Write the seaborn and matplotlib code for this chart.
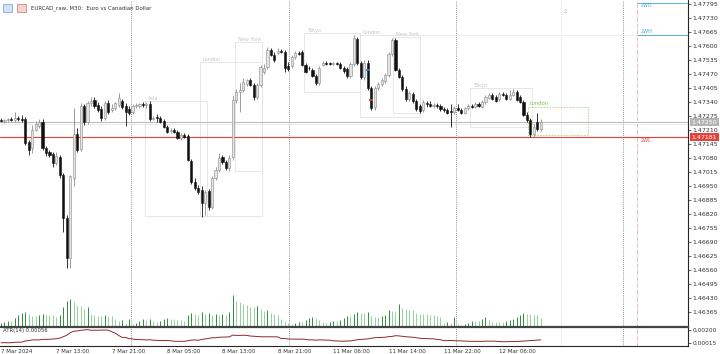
import numpy as np
import pandas as pd
import matplotlib
matplotlib.use("Agg")
import matplotlib.pyplot as plt
import seaborn as sns
from matplotlib.patches import Rectangle

# EURCAD M30 candles (bar index = position)
opens = [1.47256, 1.47252, 1.47256, 1.47261, 1.47256, 1.47266, 1.47261, 1.47261, 1.47154, 1.47126,
         1.47210, 1.47229, 1.47247, 1.47126, 1.47108, 1.47099, 1.47057, 1.47085, 1.47001, 1.46801,
         1.46616, 1.46987, 1.47191, 1.47122, 1.47321, 1.47247, 1.47335, 1.47349, 1.47326, 1.47307,
         1.47266, 1.47335, 1.47303, 1.47312, 1.47326, 1.47345, 1.47321, 1.47307, 1.47294, 1.47321,
         1.47321, 1.47331, 1.47326, 1.47331, 1.47261, 1.47270, 1.47266, 1.47252, 1.47224, 1.47205,
         1.47210, 1.47201, 1.47173, 1.47187, 1.47182, 1.47066, 1.46969, 1.46941, 1.46931, 1.46871,
         1.46927, 1.46852, 1.46987, 1.47024, 1.47085, 1.47061, 1.47034, 1.47085, 1.47349, 1.47386,
         1.47396, 1.47424, 1.47442, 1.47419, 1.47363, 1.47419, 1.47479, 1.47502, 1.47581, 1.47558,
         1.47567, 1.47577, 1.47572, 1.47507, 1.47507, 1.47549, 1.47567, 1.47572, 1.47512, 1.47498,
         1.47489, 1.47461, 1.47428, 1.47512, 1.47521, 1.47521, 1.47516, 1.47521, 1.47516, 1.47498,
         1.47493, 1.47461, 1.47516, 1.47633, 1.47521, 1.47456, 1.47521, 1.47405, 1.47317, 1.47405,
         1.47424, 1.47437, 1.47465, 1.47563, 1.47628, 1.47489, 1.47456, 1.47400, 1.47354, 1.47377,
         1.47345, 1.47321, 1.47303, 1.47335, 1.47331, 1.47321, 1.47326, 1.47321, 1.47307, 1.47303,
         1.47298, 1.47294, 1.47312, 1.47303, 1.47289, 1.47312, 1.47321, 1.47317, 1.47331, 1.47317,
         1.47340, 1.47359, 1.47372, 1.47363, 1.47354, 1.47377, 1.47372, 1.47354, 1.47372, 1.47386,
         1.47363, 1.47340, 1.47280, 1.47256, 1.47191, 1.47247, 1.47215]
highs = [1.47266, 1.47261, 1.47266, 1.47270, 1.47294, 1.47275, 1.47280, 1.47270, 1.47164, 1.47233,
         1.47252, 1.47261, 1.47261, 1.47136, 1.47117, 1.47108, 1.47108, 1.47094, 1.47010, 1.46815,
         1.47001, 1.47312, 1.47219, 1.47335, 1.47331, 1.47345, 1.47363, 1.47363, 1.47340, 1.47321,
         1.47345, 1.47349, 1.47331, 1.47340, 1.47382, 1.47354, 1.47335, 1.47321, 1.47331, 1.47335,
         1.47335, 1.47340, 1.47340, 1.47345, 1.47275, 1.47284, 1.47275, 1.47261, 1.47233, 1.47219,
         1.47219, 1.47210, 1.47196, 1.47196, 1.47191, 1.47075, 1.46987, 1.46955, 1.46950, 1.46931,
         1.46936, 1.46996, 1.47038, 1.47103, 1.47094, 1.47071, 1.47094, 1.47372, 1.47400, 1.47428,
         1.47451, 1.47447, 1.47451, 1.47428, 1.47428, 1.47512, 1.47516, 1.47595, 1.47591, 1.47572,
         1.47591, 1.47586, 1.47581, 1.47526, 1.47558, 1.47577, 1.47577, 1.47581, 1.47521, 1.47507,
         1.47498, 1.47470, 1.47507, 1.47530, 1.47530, 1.47526, 1.47526, 1.47526, 1.47526, 1.47507,
         1.47502, 1.47526, 1.47651, 1.47642, 1.47530, 1.47535, 1.47535, 1.47414, 1.47414, 1.47433,
         1.47451, 1.47475, 1.47572, 1.47637, 1.47637, 1.47498, 1.47465, 1.47414, 1.47391, 1.47386,
         1.47354, 1.47331, 1.47349, 1.47345, 1.47345, 1.47335, 1.47335, 1.47331, 1.47317, 1.47312,
         1.47331, 1.47321, 1.47331, 1.47312, 1.47317, 1.47331, 1.47331, 1.47340, 1.47340, 1.47349,
         1.47372, 1.47382, 1.47382, 1.47372, 1.47386, 1.47386, 1.47382, 1.47396, 1.47400, 1.47396,
         1.47372, 1.47349, 1.47294, 1.47266, 1.47238, 1.47289, 1.47261]
lows = [1.47247, 1.47242, 1.47247, 1.47252, 1.47247, 1.47252, 1.47247, 1.47140, 1.47094, 1.47103,
        1.47205, 1.47219, 1.47117, 1.47089, 1.47085, 1.47038, 1.47047, 1.46987, 1.46736, 1.46569,
        1.46569, 1.46950, 1.47108, 1.47112, 1.47233, 1.47238, 1.47321, 1.47312, 1.47294, 1.47252,
        1.47256, 1.47284, 1.47294, 1.47303, 1.47317, 1.47307, 1.47229, 1.47280, 1.47284, 1.47312,
        1.47312, 1.47317, 1.47312, 1.47252, 1.47256, 1.47247, 1.47242, 1.47219, 1.47196, 1.47196,
        1.47196, 1.47168, 1.47164, 1.47173, 1.47066, 1.46959, 1.46931, 1.46913, 1.46806, 1.46815,
        1.46839, 1.46843, 1.46978, 1.47015, 1.47052, 1.47024, 1.47020, 1.47071, 1.47335, 1.47294,
        1.47386, 1.47414, 1.47414, 1.47349, 1.47354, 1.47410, 1.47470, 1.47493, 1.47554, 1.47526,
        1.47563, 1.47567, 1.47479, 1.47484, 1.47498, 1.47540, 1.47558, 1.47507, 1.47475, 1.47489,
        1.47456, 1.47419, 1.47419, 1.47507, 1.47512, 1.47512, 1.47512, 1.47512, 1.47493, 1.47475,
        1.47451, 1.47451, 1.47507, 1.47512, 1.47447, 1.47442, 1.47396, 1.47303, 1.47303, 1.47396,
        1.47414, 1.47428, 1.47456, 1.47554, 1.47484, 1.47451, 1.47391, 1.47345, 1.47345, 1.47335,
        1.47298, 1.47289, 1.47294, 1.47317, 1.47317, 1.47312, 1.47312, 1.47298, 1.47294, 1.47284,
        1.47224, 1.47284, 1.47298, 1.47284, 1.47284, 1.47303, 1.47312, 1.47312, 1.47317, 1.47312,
        1.47331, 1.47354, 1.47349, 1.47340, 1.47345, 1.47368, 1.47349, 1.47349, 1.47368, 1.47345,
        1.47335, 1.47275, 1.47247, 1.47177, 1.47177, 1.47205, 1.47205]
closes = [1.47252, 1.47256, 1.47261, 1.47256, 1.47266, 1.47261, 1.47256, 1.47150, 1.47117, 1.47210,
          1.47238, 1.47247, 1.47126, 1.47103, 1.47094, 1.47057, 1.47089, 1.47001, 1.46801, 1.46616,
          1.46996, 1.47191, 1.47117, 1.47321, 1.47247, 1.47335, 1.47345, 1.47321, 1.47303, 1.47266,
          1.47335, 1.47294, 1.47312, 1.47335, 1.47359, 1.47317, 1.47294, 1.47289, 1.47321, 1.47326,
          1.47331, 1.47326, 1.47331, 1.47261, 1.47266, 1.47268, 1.47247, 1.47224, 1.47201, 1.47210,
          1.47201, 1.47173, 1.47187, 1.47177, 1.47071, 1.46969, 1.46941, 1.46922, 1.46871, 1.46922,
          1.46852, 1.46987, 1.47024, 1.47080, 1.47061, 1.47034, 1.47080, 1.47349, 1.47386, 1.47396,
          1.47433, 1.47442, 1.47419, 1.47363, 1.47419, 1.47502, 1.47498, 1.47581, 1.47558, 1.47535,
          1.47577, 1.47572, 1.47498, 1.47493, 1.47549, 1.47567, 1.47565, 1.47512, 1.47479, 1.47496,
          1.47461, 1.47428, 1.47498, 1.47521, 1.47519, 1.47516, 1.47521, 1.47516, 1.47498, 1.47484,
          1.47461, 1.47516, 1.47637, 1.47521, 1.47456, 1.47521, 1.47405, 1.47312, 1.47405, 1.47424,
          1.47442, 1.47465, 1.47563, 1.47628, 1.47489, 1.47456, 1.47400, 1.47354, 1.47382, 1.47345,
          1.47307, 1.47298, 1.47340, 1.47331, 1.47321, 1.47326, 1.47321, 1.47307, 1.47303, 1.47289,
          1.47294, 1.47312, 1.47303, 1.47289, 1.47312, 1.47321, 1.47317, 1.47331, 1.47321, 1.47340,
          1.47363, 1.47372, 1.47354, 1.47345, 1.47377, 1.47372, 1.47354, 1.47372, 1.47386, 1.47349,
          1.47340, 1.47280, 1.47256, 1.47191, 1.47224, 1.47215, 1.47247]
volumes = [400, 500, 600, 600, 900, 1200, 1400, 1500, 1300, 1100,
           1100, 1200, 1300, 1200, 1200, 1200, 1000, 1200, 2000, 2600,
           2800, 2500, 2100, 2100, 1800, 2000, 1300, 1200, 1100, 1100,
           1200, 1100, 1100, 800, 600, 700, 400, 800, 300, 400,
           600, 800, 700, 800, 600, 500, 600, 800, 900, 800,
           800, 700, 700, 600, 1200, 1400, 1300, 1200, 1500, 1300,
           1400, 1200, 1300, 1200, 1300, 1200, 1500, 3200, 2600, 2500,
           2300, 2200, 2000, 2000, 2100, 1800, 1600, 1700, 1400, 1300,
           1200, 800, 600, 400, 300, 400, 500, 500, 700, 900,
           1000, 900, 700, 500, 400, 500, 600, 600, 700, 900,
           1100, 1100, 1300, 1500, 1400, 1400, 1500, 1100, 1000, 1000,
           1100, 1200, 1700, 1600, 1500, 2300, 1900, 1800, 1700, 1700,
           1400, 1300, 1300, 1300, 1200, 1200, 1100, 1000, 400, 500,
           400, 1000, 300, 200, 300, 400, 600, 600, 600, 800,
           1000, 700, 500, 500, 500, 500, 600, 700, 800, 1000,
           1200, 1400, 1300, 1300, 1200, 1200, 900]

time_labels = ["7 Mar 2024", "7 Mar 13:00", "7 Mar 21:00", "8 Mar 05:00", "8 Mar 13:00",
               "8 Mar 21:00", "11 Mar 06:00", "11 Mar 14:00", "11 Mar 22:00", "12 Mar 06:00"]
time_label_bars = [0, 16, 32, 48, 64, 80, 96, 112, 128, 144]

price_ticks = [1.47795, 1.47730, 1.47665, 1.47600, 1.47535, 1.47470, 1.47405, 1.47340,
               1.47275, 1.47210, 1.47145, 1.47080, 1.47015, 1.46950, 1.46885, 1.46820,
               1.46755, 1.46690, 1.46625, 1.46560, 1.46495, 1.46430, 1.46365]

day_separators = [37.6, 83.2, 131.5, 179.8]
bid_price, ask_price = 1.47247, 1.47238
level_2wl = 1.47177
level_2wh = 1.47651
level_2wo = 1.47800

# session boxes: name, first bar, last bar, low, high
sessions = [
    ("Asia", 41.6, 59.5, 1.46811, 1.47345),
    ("London", 57.5, 75.4, 1.46811, 1.47526),
    ("New York", 67.6, 75.4, 1.47020, 1.47619),
    ("Tokyo", 87.6, 103.8, 1.47386, 1.47661),
    ("London", 103.8, 121.1, 1.47270, 1.47651),
    ("New York", 113.3, 121.1, 1.47290, 1.47642),
    ("Tokyo", 135.5, 153.5, 1.47224, 1.47405),
]
london_now = ("London", 152.3, 169.6, 1.47187, 1.47317)

sns.set_style("white")
plt.rcParams["font.family"] = ["DejaVu Sans"]

W, H = 720, 354
fig = plt.figure(figsize=(7.2, 3.54), dpi=100)
plot_w = 688 / W
ax = fig.add_axes([0, 27 / H, plot_w, 327 / H])
ax_vol = fig.add_axes([0, 27 / H, plot_w, 34 / H], sharex=ax)
ax_atr = fig.add_axes([0, 8 / H, plot_w, 19 / H], sharex=ax)

idx = np.arange(len(closes))
o, hi, lo, c = map(np.array, (opens, highs, lows, closes))
up = c >= o
x_left = -0.3
ax.set_xlim(x_left, x_left + 688 / 3.46)
ax.set_ylim(1.46295, 1.47814)

# sessions
for name, a, b, low, high in sessions:
    ax.add_patch(Rectangle((a, low), b - a, high - low, fill=False, ec="#e3e3e3", lw=0.6, zorder=1))
    ax.text(a + 0.8, high, name, fontsize=3.6, color="#c4c4c4", va="bottom", zorder=1)
name, a, b, low, high = london_now
ax.add_patch(Rectangle((a, low), b - a, high - low, fill=False, ec="#a6d68a", lw=0.6,
                       ls=(0, (2, 1.5)), zorder=1))
ax.text(a + 0.3, high + 0.00003, name, fontsize=3.8, color="#7cbf58", va="bottom")

# horizontal levels
ax.axhline(bid_price, color="#b8b8b8", lw=0.7, zorder=2)
ax.axhline(ask_price, color="#e2e2e2", lw=0.5, zorder=2)
ax.axhline(level_2wl, color="#f03a32", lw=0.8, zorder=2)
ax.hlines(level_2wh, 113.3, 198.6, color="#e6e6e6", lw=0.5, zorder=1)
ax.hlines(level_2wh, 183.8, 198.6, color="#3fa7d6", lw=0.6, zorder=2)
ax.hlines(level_2wo, 183.8, 198.6, color="#3fa7d6", lw=0.6, zorder=2)
ax.text(185, level_2wh + 0.00003, "2WH", fontsize=3.6, color="#3fa7d6", va="bottom")
ax.text(185, level_2wo + 0.00002, "2WO", fontsize=3.4, color="#3fa7d6", va="top")
ax.text(185, level_2wl - 0.00006, "2WL", fontsize=3.6, color="#e8413c", va="top")
ax.text(162.5, 1.47760, "2", fontsize=4, color="#8fc3e0", va="center")

# separators
for s in day_separators:
    for a_ in (ax, ax_atr):
        a_.axvline(s, color="#707070", lw=0.6, ls=(0, (1, 1.5)), zorder=0)
for a_ in (ax, ax_atr):
    a_.axvline(161.8, color="#d0d0d0", lw=0.6, ls=(0, (1, 1.5)), zorder=0)
    a_.axvline(183.8, color="#e8a0a0", lw=0.6, ls=(0, (4, 1.5, 1, 1.5)), zorder=0)

# candles
body = np.maximum(np.abs(c - o), 0.000025)
ax.vlines(idx[up], lo[up], hi[up], color="#8a8a8a", lw=0.6, zorder=3)
ax.vlines(idx[~up], lo[~up], hi[~up], color="#111111", lw=0.6, zorder=3)
ax.bar(idx[up], body[up], bottom=np.minimum(o, c)[up], width=0.62, color="#e4e4e4",
       edgecolor="#8a8a8a", lw=0.4, zorder=4)
ax.bar(idx[~up], body[~up], bottom=np.minimum(o, c)[~up], width=0.62, color="#111111",
       edgecolor="#111111", lw=0.4, zorder=4)

# trade markers
ax.plot([106], [1.47489], marker="_", ms=3, color="#2f7fd0", mew=1.2, zorder=5)
ax.plot([107], [1.47349], marker="_", ms=3, color="#e04040", mew=1.2, zorder=5)

# right price scale
ax.yaxis.tick_right()
ax.set_yticks(price_ticks)
ax.set_yticklabels([f"{p:.5f}" for p in price_ticks])
ax.tick_params(axis="y", length=2, width=0.5, pad=1, labelsize=4.5, labelcolor="#333333",
               colors="#333333")
ax.tick_params(axis="x", bottom=False, labelbottom=False)
for sp in ("top", "left", "bottom"):
    ax.spines[sp].set_visible(False)
ax.spines["right"].set_linewidth(0.8)
ax.patch.set_alpha(0)

trans = ax.get_yaxis_transform()
ax.text(1.005, bid_price, "1.47250", transform=trans, fontsize=4.5, color="white",
        va="center", ha="left", clip_on=False,
        bbox=dict(boxstyle="square,pad=0.25", fc="#b4b4b4", ec="none"))
ax.text(1.005, level_2wl, "1.47181", transform=trans, fontsize=4.5, color="white",
        va="center", ha="left", clip_on=False,
        bbox=dict(boxstyle="square,pad=0.25", fc="#e8413c", ec="none"))

# volumes
v = np.array(volumes)
rising = np.r_[True, v[1:] > v[:-1]]
ax_vol.vlines(idx[rising], 0, v[rising], color="#2e8b3e", lw=0.7)
ax_vol.vlines(idx[~rising], 0, v[~rising], color="#8fd49a", lw=0.7)
ax_vol.set_ylim(0, 3400)
ax_vol.axis("off")
ax_vol.patch.set_alpha(0)

# ATR(14)
tr = pd.concat([pd.Series(hi - lo),
                (pd.Series(hi) - pd.Series(c).shift()).abs(),
                (pd.Series(lo) - pd.Series(c).shift()).abs()], axis=1).max(axis=1)
atr = tr.rolling(14, min_periods=1).mean()
sns.lineplot(x=idx, y=atr.values, ax=ax_atr, color="#8b2a2a", lw=0.7)
a_lo, a_hi = atr.min(), atr.max()
ax_atr.set_ylim(a_lo - (a_hi - a_lo) * 0.25, a_hi + (a_hi - a_lo) * 0.2)
ax_atr.yaxis.tick_right()
ax_atr.set_yticks([a_hi, a_lo])
ax_atr.set_yticklabels(["0.00200", "0.00015"])
ax_atr.tick_params(axis="y", length=2, width=0.5, pad=1, labelsize=4.2, labelcolor="#333333")
ax_atr.set_xticks(time_label_bars)
ax_atr.set_xticklabels(time_labels)
ax_atr.tick_params(axis="x", length=2, width=0.5, pad=0.5, labelsize=4, labelcolor="#333333")
for t in ax_atr.get_xticklabels():
    t.set_ha("left")
ax_atr.spines["left"].set_visible(False)
for sp in ("top", "bottom", "right"):
    ax_atr.spines[sp].set_linewidth(0.8)
ax_atr.spines["top"].set_linewidth(1.6)
ax_atr.spines["top"].set_color("#444444")
ax_atr.text(0.004, 0.93, "ATR(14) 0.00056", transform=ax_atr.transAxes, fontsize=3.8,
            color="#333333", va="top")
ax_atr.set_xlim(x_left, x_left + 688 / 3.46)

# title with the two small window icons
fig.patches.append(Rectangle((3 / W, 1 - 12 / H), 9 / W, 8 / H, transform=fig.transFigure,
                             fc="#cfe3f5", ec="#6fa0d0", lw=0.5))
fig.patches.append(Rectangle((17 / W, 1 - 12 / H), 9 / W, 8 / H, transform=fig.transFigure,
                             fc="#f5d3d3", ec="#d07070", lw=0.5))
fig.text(31 / W, 1 - 8 / H, "EURCAD_raw, M30:  Euro vs Canadian Dollar", fontsize=3.9,
         color="#333333", va="center")

fig.savefig("out.png", dpi=100)
